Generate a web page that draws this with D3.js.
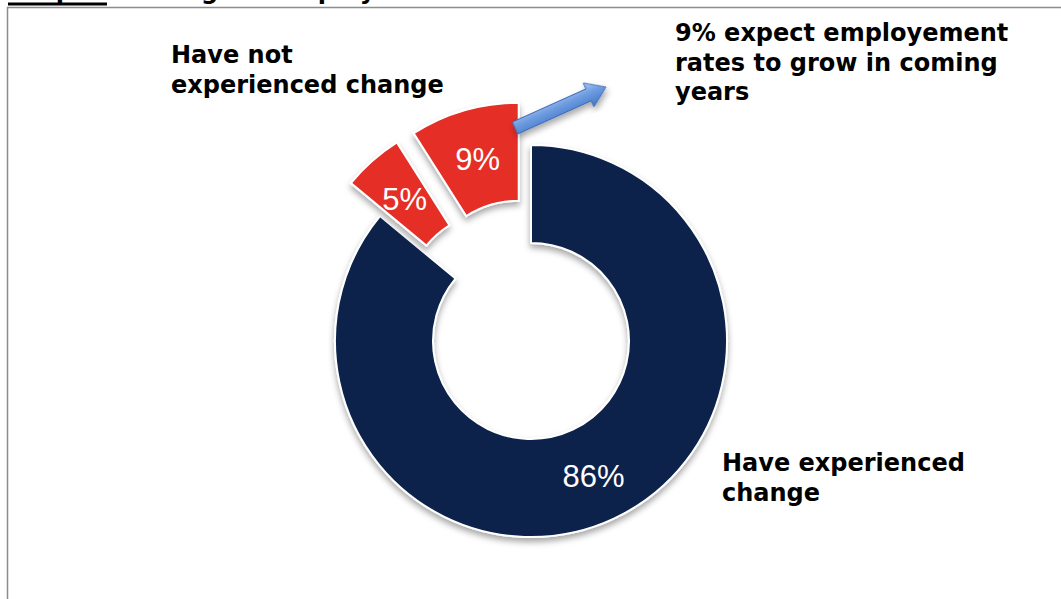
<!DOCTYPE html>
<html>
<head>
<meta charset="utf-8">
<script src="https://cdn.jsdelivr.net/npm/d3@7"></script>
<style>
  html, body { margin: 0; padding: 0; background: #ffffff; }
  svg { display: block; }
</style>
</head>
<body>
<svg id="chart" width="1061" height="599"></svg>
<script>
// Share of respondents by experience of change in employment rates
const categories = ["Have experienced change", "Have not experienced change", "Expect employment rates to grow"];
const values = [86, 5, 9];
const valueLabels = ["86%", "5%", "9%"];
const exploded = [false, true, true];
const sliceColors = ["#0a224b", "#e42d26", "#e42d26"];

const titleMain = "Graph 5";
const titleRest = ": Change in employment rates";
const labelNotChanged = ["Have not", "experienced change"];
const labelExpect = ["9% expect employement", "rates to grow in coming", "years"];
const labelChanged = ["Have experienced", "change"];

const svg = d3.select("#chart");
const W = 1061, H = 599;

// frame
svg.append("rect")
  .attr("x", 7.5).attr("y", 7.5)
  .attr("width", W + 20).attr("height", H + 20)
  .attr("fill", "none")
  .attr("stroke", "#8c8c8c")
  .attr("stroke-width", 1.5);

// title (runs above the page edge)
const boldFont = "'DejaVu Sans', Verdana, sans-serif";
const title = svg.append("text")
  .attr("x", 8).attr("y", -1.5)
  .attr("font-family", boldFont)
  .attr("font-weight", "bold")
  .attr("font-size", 24)
  .attr("fill", "#000");
title.append("tspan").text(titleMain);
title.append("tspan").text(titleRest);
svg.append("rect").attr("x", 8).attr("y", 2.5).attr("width", 99).attr("height", 3).attr("fill", "#000");

// shadow filter
const defs = svg.append("defs");
const f = defs.append("filter").attr("id", "shadow")
  .attr("x", "-20%").attr("y", "-20%").attr("width", "140%").attr("height", "140%");
f.append("feDropShadow")
  .attr("dx", 0).attr("dy", 4)
  .attr("stdDeviation", 3)
  .attr("flood-color", "#000")
  .attr("flood-opacity", 0.35);

// arrow gradient
const g = defs.append("linearGradient").attr("id", "arrowGrad")
  .attr("x1", 0).attr("y1", 0).attr("x2", 0).attr("y2", 1);
g.append("stop").attr("offset", "0%").attr("stop-color", "#a9c6f2");
g.append("stop").attr("offset", "45%").attr("stop-color", "#6c9be0");
g.append("stop").attr("offset", "100%").attr("stop-color", "#4677c6");

// donut
const cx = 531, cy = 341;
const rOuter = 196, rInner = 98, explode = 44;

const pie = d3.pie().sort(null).value(d => d.value).startAngle(0).endAngle(2 * Math.PI);
const data = values.map((v, i) => ({
  value: v, label: valueLabels[i], cat: categories[i],
  color: sliceColors[i], exploded: exploded[i]
}));
const arcs = pie(data);

const arc = d3.arc().innerRadius(rInner).outerRadius(rOuter);
const labelArc = d3.arc().innerRadius((rInner + rOuter) / 2).outerRadius((rInner + rOuter) / 2);

function offset(d) {
  if (!d.data.exploded) return [0, 0];
  const a = (d.startAngle + d.endAngle) / 2;
  return [explode * Math.sin(a), -explode * Math.cos(a)];
}

const donut = svg.append("g").attr("transform", `translate(${cx},${cy})`);

const slices = donut.selectAll("g.slice")
  .data(arcs)
  .join("g")
  .attr("class", "slice")
  .attr("transform", d => { const o = offset(d); return `translate(${o[0]},${o[1]})`; });

slices.append("path")
  .attr("d", arc)
  .attr("fill", d => d.data.color)
  .attr("stroke", "#ffffff")
  .attr("stroke-width", 2)
  .attr("stroke-linejoin", "miter")
  .attr("filter", "url(#shadow)");

slices.append("text")
  .attr("transform", d => { const c = labelArc.centroid(d); return `translate(${c[0]},${c[1] + 2})`; })
  .attr("text-anchor", "middle")
  .attr("dominant-baseline", "central")
  .attr("font-family", "'Liberation Sans', Arial, sans-serif")
  .attr("font-size", 31)
  .attr("fill", "#ffffff")
  .text(d => d.data.label);

// arrow pointing away from the "expect to grow" slice
const arrowTail = [515, 128], arrowTip = [606, 87];
const adx = arrowTip[0] - arrowTail[0], ady = arrowTip[1] - arrowTail[1];
const aLen = Math.hypot(adx, ady), aAng = Math.atan2(ady, adx) * 180 / Math.PI;
const shaftHW = 6.5, headHW = 13, headLen = 19;
const arrowPts = [
  [0, -shaftHW], [aLen - headLen, -shaftHW], [aLen - headLen, -headHW],
  [aLen, 0],
  [aLen - headLen, headHW], [aLen - headLen, shaftHW], [0, shaftHW]
];
svg.append("path")
  .attr("transform", `translate(${arrowTail[0]},${arrowTail[1]}) rotate(${aAng})`)
  .attr("d", d3.line()(arrowPts) + "Z")
  .attr("fill", "url(#arrowGrad)")
  .attr("stroke", "#3d6bb3")
  .attr("stroke-width", 1)
  .attr("stroke-linejoin", "round")
  .attr("filter", "url(#shadow)");

// annotation labels
function multiline(lines, x, y0, lh) {
  const t = svg.append("text")
    .attr("font-family", boldFont)
    .attr("font-weight", "bold")
    .attr("font-size", 24)
    .attr("fill", "#000");
  lines.forEach((s, i) => t.append("tspan").attr("x", x).attr("y", y0 + i * lh).text(s));
}
multiline(labelNotChanged, 171, 63, 29.5);
multiline(labelExpect, 675, 41, 29.5);
multiline(labelChanged, 722, 471, 29.5);
</script>
</body>
</html>
